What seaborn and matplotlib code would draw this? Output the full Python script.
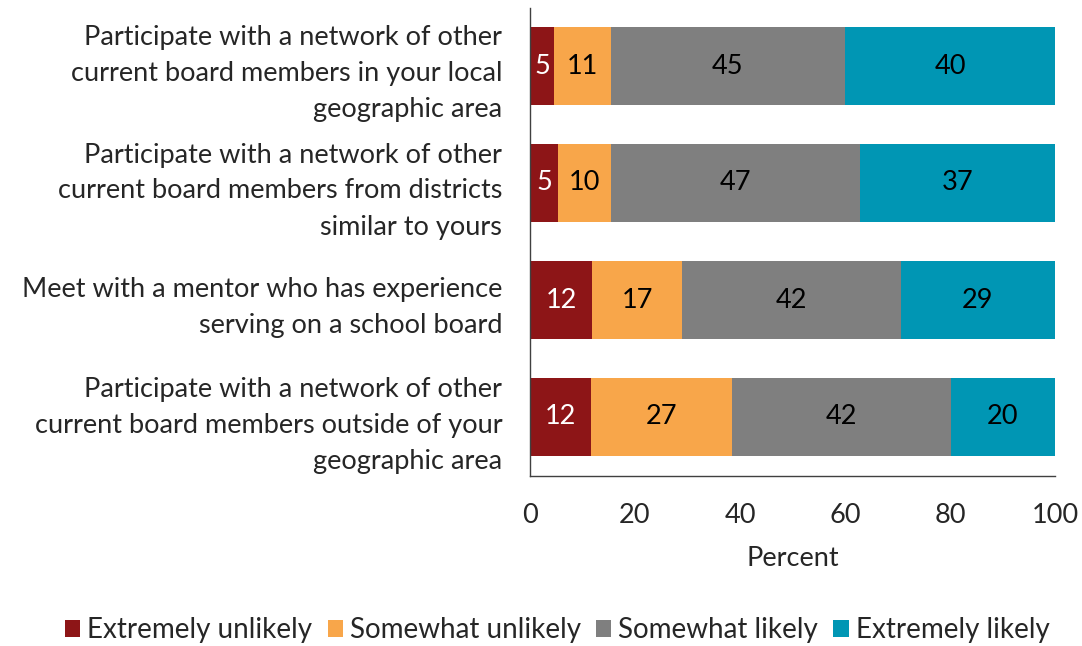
import numpy as np
import pandas as pd
import matplotlib
matplotlib.use("Agg")
import matplotlib.pyplot as plt
from matplotlib.patches import Patch
import seaborn as sns

# Survey items (top to bottom)
items = [
    "Participate with a network of other\ncurrent board members in your local\ngeographic area",
    "Participate with a network of other\ncurrent board members from districts\nsimilar to yours",
    "Meet with a mentor who has experience\nserving on a school board",
    "Participate with a network of other\ncurrent board members outside of your\ngeographic area",
]

responses = ["Extremely unlikely", "Somewhat unlikely", "Somewhat likely", "Extremely likely"]

# Percent of respondents per response, one list per item
extremely_unlikely = [4.6, 5.4, 11.9, 11.7]
somewhat_unlikely = [10.8, 10.0, 17.1, 26.8]
somewhat_likely = [44.6, 47.4, 41.6, 41.6]
extremely_likely = [40.0, 37.2, 29.4, 19.9]

colors = ["#8D1517", "#F8A64A", "#7F7F7F", "#0096B4"]
label_colors = ["white", "black", "black", "black"]

df = pd.DataFrame({
    "item": items,
    responses[0]: extremely_unlikely,
    responses[1]: somewhat_unlikely,
    responses[2]: somewhat_likely,
    responses[3]: extremely_likely,
})

sns.set_style("white")
plt.rcParams["font.family"] = ["Lato", "DejaVu Sans"]

FS = 19.5

fig = plt.figure(figsize=(10.82, 6.46), dpi=100)
ax = fig.add_axes([530 / 1082, 1 - 475.5 / 646, 525 / 1082, 468 / 646])

vals = df[responses].to_numpy()
cum = np.cumsum(vals, axis=1)

# Stacked bars: draw cumulative totals from the outermost segment inward
for j in reversed(range(len(responses))):
    sns.barplot(x=cum[:, j], y=df["item"], orient="h", color=colors[j],
                width=0.66, saturation=1, ax=ax, linewidth=0)

# Segment value labels
for i in range(len(items)):
    for j in range(len(responses)):
        start = cum[i, j] - vals[i, j]
        center = start + vals[i, j] / 2
        ax.text(center, i, f"{vals[i, j]:.0f}", ha="center", va="center",
                fontsize=FS, color=label_colors[j])

ax.set_xlim(0, 100)
ax.set_ylim(len(items) - 0.5, -0.5)
ax.set_xticks([0, 20, 40, 60, 80, 100])
ax.tick_params(axis="x", labelsize=FS, length=0, pad=20)
ax.tick_params(axis="y", labelsize=FS, length=0, pad=20)
for lbl in ax.get_yticklabels():
    lbl.set_horizontalalignment("right")
    lbl.set_linespacing(1.55)
ax.set_xlabel("Percent", fontsize=FS, labelpad=13)
ax.set_ylabel("")

for side in ["top", "right"]:
    ax.spines[side].set_visible(False)
for side in ["left", "bottom"]:
    ax.spines[side].set_color("#404040")
    ax.spines[side].set_linewidth(1.0)

handles = [Patch(facecolor=c, edgecolor="none", label=r) for c, r in zip(colors, responses)]
fig.legend(handles=handles, loc="center", bbox_to_anchor=(0.515, 1 - 630 / 646),
           ncol=4, frameon=False, fontsize=20, handlelength=0.55, handleheight=0.55,
           handletextpad=0.25, columnspacing=0.55)

fig.savefig("out.png", dpi=100)
